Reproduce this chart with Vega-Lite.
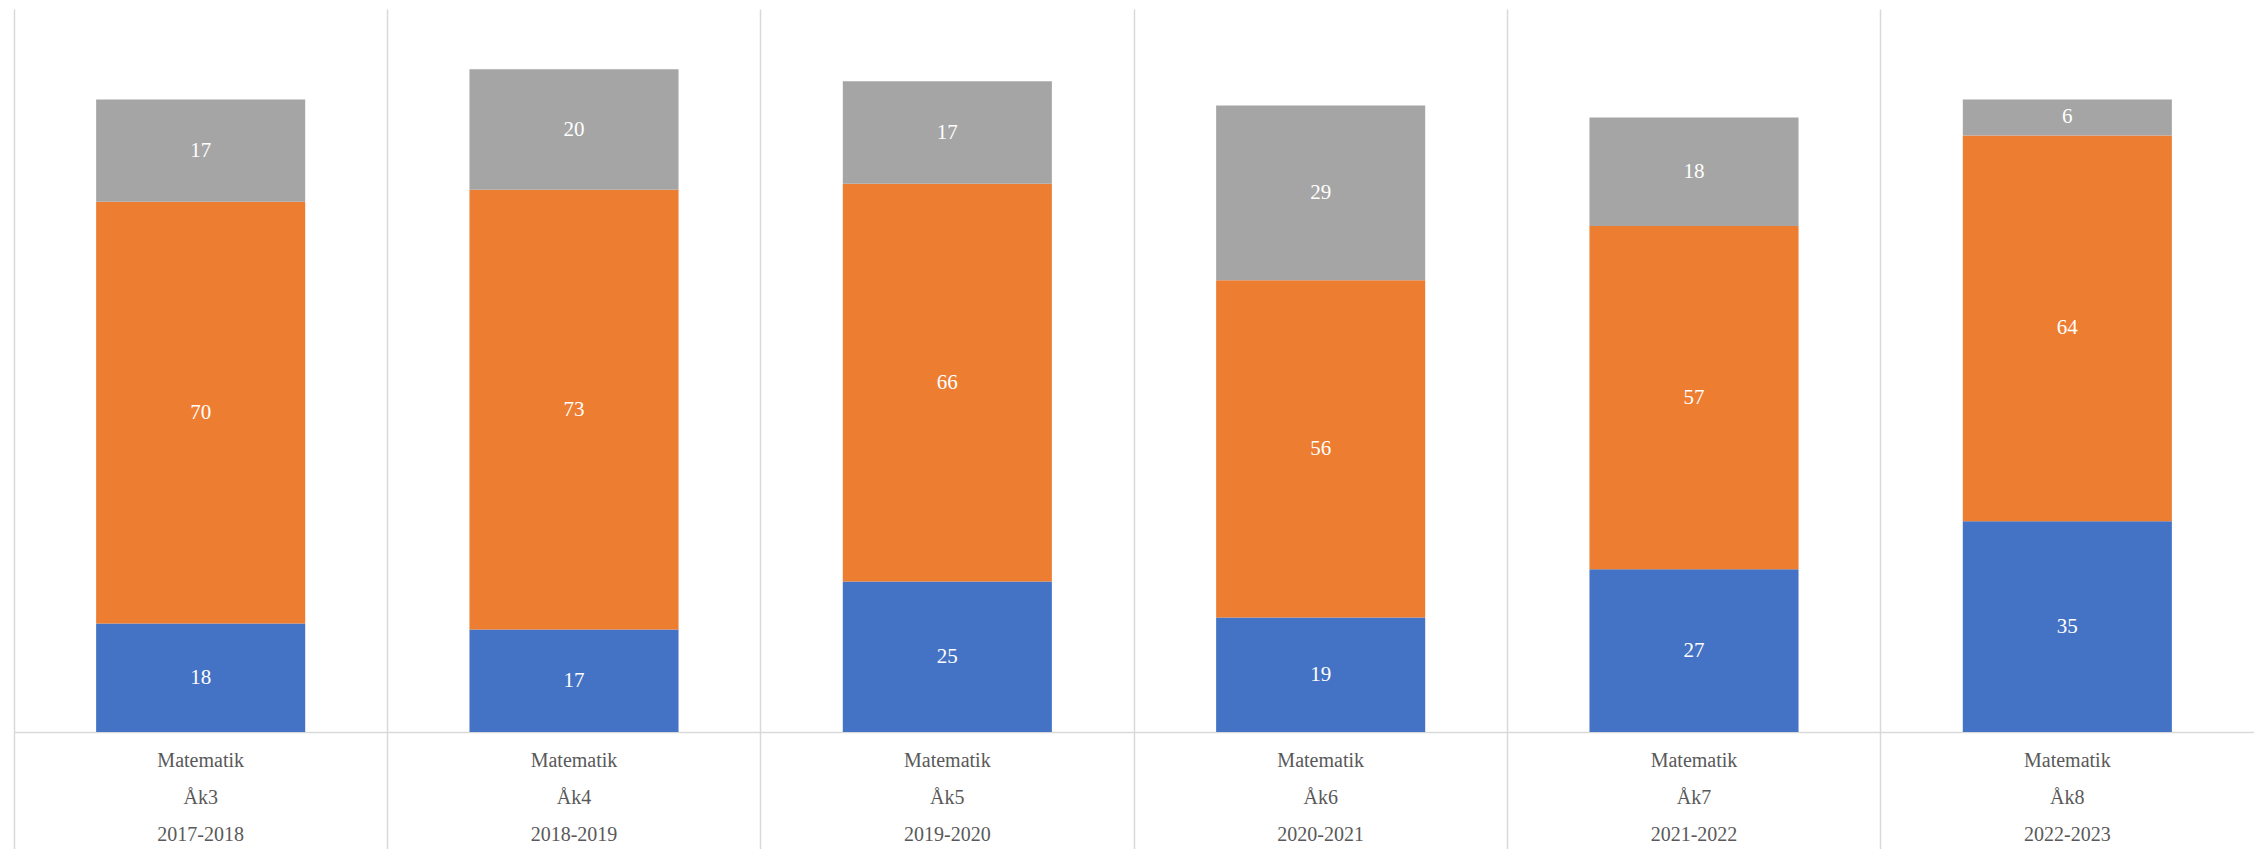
{
  "$schema": "https://vega.github.io/schema/vega-lite/v6.json",
  "autosize": {"type": "none"},
  "width": 2240,
  "height": 723,
  "padding": {"left": 14, "top": 9, "right": 0, "bottom": 117},
  "background": "white",
  "config": {"view": {"stroke": null}},
  "data": {
    "values": [
      {"label": "Matematik|Åk3|2017-2018", "serie": "Serie 1", "value": 18},
      {"label": "Matematik|Åk3|2017-2018", "serie": "Serie 2", "value": 70},
      {"label": "Matematik|Åk3|2017-2018", "serie": "Serie 3", "value": 17},
      {"label": "Matematik|Åk4|2018-2019", "serie": "Serie 1", "value": 17},
      {"label": "Matematik|Åk4|2018-2019", "serie": "Serie 2", "value": 73},
      {"label": "Matematik|Åk4|2018-2019", "serie": "Serie 3", "value": 20},
      {"label": "Matematik|Åk5|2019-2020", "serie": "Serie 1", "value": 25},
      {"label": "Matematik|Åk5|2019-2020", "serie": "Serie 2", "value": 66},
      {"label": "Matematik|Åk5|2019-2020", "serie": "Serie 3", "value": 17},
      {"label": "Matematik|Åk6|2020-2021", "serie": "Serie 1", "value": 19},
      {"label": "Matematik|Åk6|2020-2021", "serie": "Serie 2", "value": 56},
      {"label": "Matematik|Åk6|2020-2021", "serie": "Serie 3", "value": 29},
      {"label": "Matematik|Åk7|2021-2022", "serie": "Serie 1", "value": 27},
      {"label": "Matematik|Åk7|2021-2022", "serie": "Serie 2", "value": 57},
      {"label": "Matematik|Åk7|2021-2022", "serie": "Serie 3", "value": 18},
      {"label": "Matematik|Åk8|2022-2023", "serie": "Serie 1", "value": 35},
      {"label": "Matematik|Åk8|2022-2023", "serie": "Serie 2", "value": 64},
      {"label": "Matematik|Åk8|2022-2023", "serie": "Serie 3", "value": 6}
    ]
  },
  "transform": [
    {"stack": "value", "groupby": ["label"], "sort": [{"field": "serie", "order": "ascending"}], "as": ["v0", "v1"]}
  ],
  "encoding": {
    "x": {
      "field": "label",
      "type": "nominal",
      "sort": ["Matematik|Åk3|2017-2018", "Matematik|Åk4|2018-2019", "Matematik|Åk5|2019-2020", "Matematik|Åk6|2020-2021", "Matematik|Åk7|2021-2022", "Matematik|Åk8|2022-2023"],
      "scale": {"paddingInner": 0, "paddingOuter": 0},
      "axis": {
        "title": null,
        "orient": "bottom",
        "bandPosition": 0,
        "domain": true,
        "domainColor": "#d9d9d9",
        "domainWidth": 1.5,
        "grid": true,
        "gridColor": "#d9d9d9",
        "gridWidth": 1.5,
        "ticks": true,
        "tickColor": "#d9d9d9",
        "tickWidth": 1.5,
        "tickSize": 117,
        "labelExpr": "split(datum.value, '|')",
        "labelAngle": 0,
        "labelFont": "Liberation Serif",
        "labelFontSize": 20,
        "labelColor": "#595959",
        "labelLineHeight": 37,
        "labelPadding": -99,
        "labelLimit": 0,
        "labelOverlap": false,
        "labelBound": false,
        "labelFlush": false
      }
    }
  },
  "layer": [
    {
      "mark": {"type": "bar", "width": {"band": 0.56}},
      "encoding": {
        "y": {"field": "v0", "type": "quantitative", "scale": {"domain": [0, 120], "nice": false, "zero": true}, "axis": null},
        "y2": {"field": "v1"},
        "color": {
          "field": "serie",
          "type": "nominal",
          "scale": {"domain": ["Serie 1", "Serie 2", "Serie 3"], "range": ["#4472C4", "#ED7D31", "#A5A5A5"]},
          "legend": null
        }
      }
    },
    {
      "transform": [
        {"fold": ["v0", "v1"], "as": ["k", "pos"]},
        {"aggregate": [{"op": "mean", "field": "pos", "as": "mid"}], "groupby": ["label", "serie", "value"]}
      ],
      "mark": {"type": "text", "font": "Liberation Serif", "fontSize": 21, "color": "white", "baseline": "middle", "align": "center"},
      "encoding": {
        "y": {"field": "mid", "type": "quantitative"},
        "text": {"field": "value", "type": "quantitative"}
      }
    }
  ]
}
